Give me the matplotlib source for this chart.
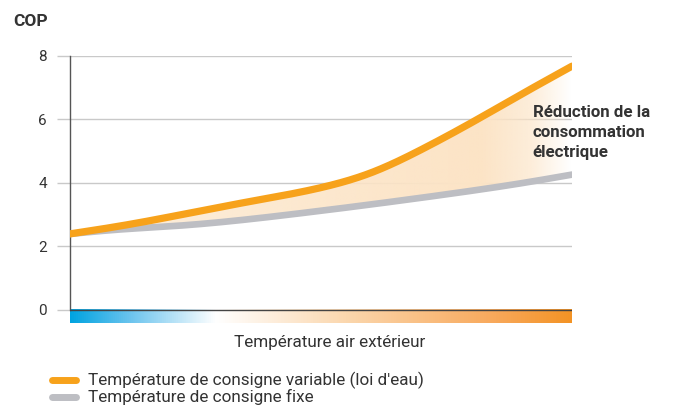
import numpy as np
import matplotlib
matplotlib.use("Agg")
import matplotlib.pyplot as plt
from matplotlib.colors import LinearSegmentedColormap, to_rgb
from matplotlib.lines import Line2D

plt.rcParams['font.family'] = ['Roboto', 'DejaVu Sans']

# Data: outdoor temperature axis in relative units 0..100
temp_x = [0, 10, 20, 30, 40, 50, 60, 70, 80, 90, 100]
cop_variable = [2.39, 2.64, 2.93, 3.24, 3.53, 3.85, 4.32, 5.05, 5.90, 6.80, 7.68]
cop_fixe = [2.39, 2.53, 2.63, 2.76, 2.93, 3.12, 3.32, 3.53, 3.75, 3.99, 4.26]
y_ticks = [0, 2, 4, 6, 8]

label_variable = "Température de consigne variable (loi d'eau)"
label_fixe = "Température de consigne fixe"
x_label = "Température air extérieur"
y_label = "COP"
annotation = "Réduction de la\nconsommation\nélectrique"

ORANGE = "#F7A21B"
GRAY = "#BDBEC3"
TEXT = "#333333"
GRID = "#C9C9C9"


def natural_spline(xk, yk, xs):
    xk = np.asarray(xk, float)
    yk = np.asarray(yk, float)
    n = len(xk)
    h = np.diff(xk)
    A = np.zeros((n, n))
    b = np.zeros(n)
    A[0, 0] = A[-1, -1] = 1
    for i in range(1, n - 1):
        A[i, i - 1] = h[i - 1]
        A[i, i] = 2 * (h[i - 1] + h[i])
        A[i, i + 1] = h[i]
        b[i] = 6 * ((yk[i + 1] - yk[i]) / h[i] - (yk[i] - yk[i - 1]) / h[i - 1])
    M = np.linalg.solve(A, b)
    idx = np.clip(np.searchsorted(xk, xs) - 1, 0, n - 2)
    x0, x1 = xk[idx], xk[idx + 1]
    hh = x1 - x0
    t0, t1 = x1 - xs, xs - x0
    return (M[idx] * t0 ** 3 / (6 * hh) + M[idx + 1] * t1 ** 3 / (6 * hh)
            + (yk[idx] / hh - M[idx] * hh / 6) * t0
            + (yk[idx + 1] / hh - M[idx + 1] * hh / 6) * t1)


W, H = 684, 407
fig = plt.figure(figsize=(W / 100, H / 100), dpi=100)
ax = fig.add_axes([70 / W, 1 - 323 / H, 502 / W, 267 / H])

xs = np.linspace(temp_x[0], temp_x[-1], 400)
yv = natural_spline(temp_x, cop_variable, xs)
yf = natural_spline(temp_x, cop_fixe, xs)

# gradient fill between the curves
base = np.array(to_rgb("#FCE4C6"))
alpha = np.interp(xs, [0, 50, 82, 92, 100], [0.6, 0.85, 1.0, 0.65, 0.0])
img = np.ones((2, len(xs), 4))
img[..., :3] = base
img[..., 3] = alpha
poly = ax.fill_between(xs, yf, yv, color='none', lw=0)
im = ax.imshow(img, extent=[0, 100, 0, 8], aspect='auto', origin='lower', zorder=1)
im.set_clip_path(poly.get_paths()[0], transform=ax.transData)

# lines
ax.plot(xs, yf, color=GRAY, lw=4.8, solid_capstyle='round', zorder=3)
ax.plot(xs, yv, color=ORANGE, lw=5.2, solid_capstyle='round', zorder=4)

# gradient bar along x-axis
bar_cmap = LinearSegmentedColormap.from_list(
    "temp", [(0.0, "#00A3E0"), (0.12, "#6CC4EE"), (0.29, "#FFFFFF"),
             (0.55, "#FBD7AE"), (0.85, "#F8A85A"), (1.0, "#F39325")])
grad = np.linspace(0, 1, 512).reshape(1, -1)
ax.imshow(grad, extent=[0, 100, -0.42, 0], aspect='auto', cmap=bar_cmap, zorder=2)

ax.set_xlim(0, 100)
ax.set_ylim(-0.42, 8)
ax.set_yticks(y_ticks)
ax.set_yticklabels([str(t) for t in y_ticks])
ax.set_xticks([])
for t in y_ticks[1:]:
    ax.axhline(t, color=GRID, lw=1.0, zorder=0.5)
ax.axhline(0, color="#444444", lw=1.0, zorder=5)

for s in ['top', 'right', 'bottom']:
    ax.spines[s].set_visible(False)
ax.spines['left'].set_bounds(0, 8)
ax.spines['left'].set_color("#555555")
ax.spines['left'].set_linewidth(1.0)
ax.tick_params(axis='y', length=9.5, width=1.0, color=GRID, labelsize=11,
               labelcolor=TEXT, pad=7)
ax.patch.set_alpha(0)

fig.text(13 / W, 1 - 22 / H, y_label, fontsize=12.5, fontweight='bold', color=TEXT,
         va='center', ha='left')
ax.text(0.922, 0.815, annotation, transform=ax.transAxes, fontsize=12.2,
        fontweight='bold', color=TEXT, va='top', ha='left', linespacing=1.42)
fig.text(330 / W, 1 - 342 / H, x_label, fontsize=12.3, color=TEXT,
         ha='center', va='center')

# manual legend
for yy, col, lab in [(380, ORANGE, label_variable), (397, GRAY, label_fixe)]:
    fig.add_artist(Line2D([52 / W, 76 / W], [1 - yy / H, 1 - yy / H], color=col,
                          lw=5, solid_capstyle='round', transform=fig.transFigure))
    fig.text(88 / W, 1 - yy / H, lab, fontsize=12.3, color=TEXT, ha='left',
             va='center')

fig.savefig("out.png", dpi=100)
